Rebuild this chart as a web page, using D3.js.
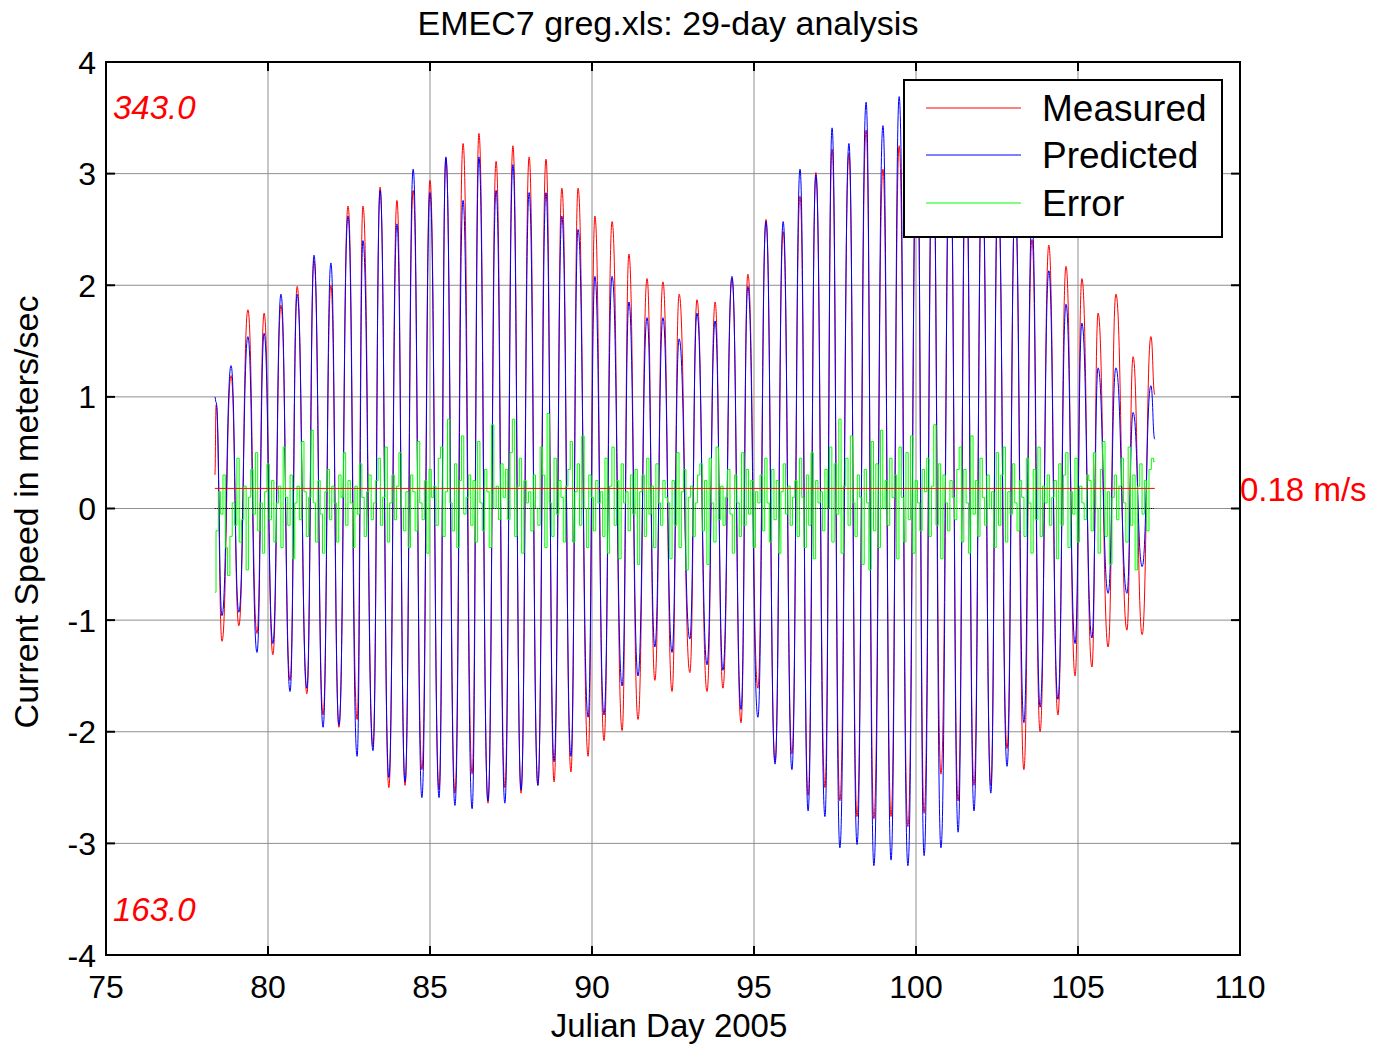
<!DOCTYPE html>
<html>
<head>
<meta charset="utf-8">
<script src="https://cdn.jsdelivr.net/npm/d3@7"></script>
<style>
body{margin:0;background:#fff;}
svg{display:block;font-family:"Liberation Sans",Arial,sans-serif;}
</style>
</head>
<body>
<script>
// flood peaks (direction 343.0, plotted positive)
const floodDay = [78.40,78.86,79.38,79.88,80.40,80.90,81.42,81.94,82.47,82.93,
    83.46,83.98,84.48,85.00,85.49,86.02,86.51,87.04,87.56,88.06,
    88.58,89.07,89.57,90.09,90.62,91.14,91.70,92.19,92.69,93.24,
    93.80,94.32,94.81,95.37,95.90,96.42,96.91,97.41,97.93,98.46,
    98.98,99.48,100.03,100.52,101.05,101.54,102.04,102.53,103.06,103.58,
    104.10,104.63,105.12,105.62,106.17,106.70,107.25]
const floodMeasured = [0.93,1.19,1.78,1.75,1.82,1.99,2.22,2.00,2.71,2.71,
    2.88,2.76,2.85,2.94,3.14,3.27,3.36,3.11,3.25,3.15,
    3.13,2.87,2.87,2.62,2.57,2.28,2.06,2.03,1.92,1.87,
    1.85,2.06,2.10,2.59,2.48,2.80,3.01,3.22,3.18,3.39,
    3.04,3.25,3.40,3.30,3.25,3.10,3.00,2.85,2.75,2.41,
    2.36,2.17,2.06,1.75,1.92,1.36,1.54]
const floodPredicted = [0.95,1.28,1.54,1.57,1.92,1.92,2.27,2.20,2.62,2.40,
    2.85,2.55,3.04,2.83,3.15,2.76,3.15,2.85,3.08,2.83,
    2.83,2.62,2.50,2.08,2.08,1.85,1.71,1.71,1.52,1.75,
    1.68,2.08,1.99,2.57,2.57,3.04,2.99,3.41,3.27,3.64,
    3.43,3.69,3.60,3.55,3.45,3.30,3.10,2.95,2.75,2.60,
    2.13,1.83,1.66,1.26,1.26,0.86,1.10]

// ebb peaks (direction 163.0, plotted negative)
const ebbDay = [78.58,79.10,79.66,80.15,80.68,81.20,81.70,82.19,82.75,83.24,
    83.73,84.23,84.75,85.28,85.77,86.30,86.79,87.31,87.81,88.33,
    88.83,89.35,89.88,90.37,90.93,91.42,91.94,92.47,93.02,93.55,
    94.04,94.60,95.12,95.65,96.17,96.67,97.19,97.65,98.18,98.70,
    99.23,99.75,100.25,100.77,101.30,101.79,102.31,102.81,103.33,103.83,
    104.38,104.91,105.43,105.93,106.51,106.98]
const ebbMeasured = [-1.19,-1.05,-1.12,-1.31,-1.54,-1.66,-1.85,-1.96,-1.89,-2.13,
    -2.50,-2.48,-2.34,-2.52,-2.55,-2.38,-2.64,-2.50,-2.55,-2.48,
    -2.45,-2.36,-2.22,-2.08,-1.99,-1.89,-1.54,-1.64,-1.47,-1.64,
    -1.61,-1.92,-1.61,-2.27,-2.20,-2.57,-2.50,-2.62,-2.76,-2.78,
    -2.76,-2.85,-2.73,-2.38,-2.62,-2.48,-2.48,-2.15,-2.34,-2.00,
    -1.85,-1.50,-1.42,-1.24,-1.09,-1.13]
const ebbPredicted = [-0.96,-0.93,-1.29,-1.21,-1.64,-1.61,-1.96,-1.94,-2.22,-2.17,
    -2.41,-2.45,-2.59,-2.59,-2.66,-2.69,-2.62,-2.64,-2.52,-2.48,
    -2.27,-2.22,-1.87,-1.85,-1.59,-1.50,-1.24,-1.29,-1.17,-1.40,
    -1.45,-1.80,-1.87,-2.29,-2.34,-2.71,-2.76,-3.04,-3.01,-3.20,
    -3.15,-3.20,-3.11,-3.04,-2.90,-2.71,-2.55,-2.31,-1.92,-1.78,
    -1.71,-1.21,-1.16,-0.76,-0.76,-0.52]

// first and last samples of the record
const endDay = [78.36, 107.37]
const endMeasured = [0.30, 1.02]
const endPredicted = [1.00, 0.62]

// measured minus predicted, evenly spaced over the record (one row per day)
const errorValues = [
    -0.75,-0.20,0.15,-0.05,0.30,-0.35,-0.60,-0.25,0.05,-0.15,0.45,-0.30,-0.10,0.20,
    -0.55,0.10,0.35,-0.05,0.50,-0.20,0.05,-0.40,0.15,0.40,-0.10,0.25,-0.30,0.05,
    0.20,-0.35,0.55,0.10,-0.15,0.30,-0.45,0.05,0.20,-0.10,0.60,0.15,-0.25,0.10,
    0.70,0.05,-0.30,0.25,-0.05,-0.40,0.15,0.35,-0.10,0.20,0.05,-0.30,0.30,0.10,
    0.50,-0.15,0.25,0.05,-0.35,0.20,-0.05,0.40,0.10,-0.25,0.15,0.30,-0.10,0.05,
    0.25,0.45,-0.15,0.10,0.55,-0.30,0.05,0.30,-0.10,0.20,0.50,0.00,-0.20,0.15,
    -0.35,0.30,0.15,-0.20,0.60,0.05,-0.10,0.25,-0.40,0.35,0.10,0.20,-0.15,0.45,
    0.55,-0.25,0.15,0.80,0.05,-0.20,0.40,-0.35,0.25,0.65,-0.05,0.10,0.30,-0.15,
    0.25,-0.30,0.60,0.05,-0.20,0.35,0.15,-0.35,0.75,0.00,0.20,-0.10,0.40,0.10,
    0.35,-0.10,0.50,0.80,-0.25,0.20,0.45,-0.40,0.25,0.05,0.15,-0.20,0.30,0.00,
    -0.15,0.55,0.30,-0.35,0.85,0.05,-0.25,0.45,-0.05,0.25,0.10,-0.30,0.20,0.35,
    0.60,-0.30,0.15,0.40,-0.15,0.65,0.00,-0.35,0.30,0.10,-0.20,0.25,0.05,0.15,
    -0.25,0.45,-0.40,0.20,0.55,-0.15,0.25,-0.45,0.40,0.05,0.15,-0.20,0.30,-0.05,
    0.35,-0.50,0.15,0.30,-0.25,0.45,-0.05,0.20,-0.35,0.40,0.05,-0.15,0.25,0.10,
    0.05,-0.45,0.25,-0.15,0.50,-0.35,0.15,0.35,-0.55,0.10,0.20,-0.25,0.05,0.30,
    0.40,-0.20,0.25,-0.50,0.45,0.05,-0.30,0.55,-0.10,0.20,-0.15,0.10,0.35,-0.05,
    -0.40,0.30,0.05,-0.25,0.50,-0.15,0.35,-0.05,0.25,-0.35,0.15,0.05,0.30,-0.20,
    0.45,0.05,-0.30,0.35,-0.10,0.25,-0.40,0.15,0.40,-0.05,0.20,-0.15,0.10,0.25,
    -0.25,0.45,0.10,-0.35,0.30,-0.15,0.50,-0.45,0.25,0.05,0.15,-0.20,0.35,0.00,
    0.55,-0.30,0.40,-0.05,0.80,-0.40,0.20,0.45,-0.15,0.65,0.05,-0.25,0.30,0.10,
    -0.50,0.35,0.05,-0.55,0.60,-0.20,0.40,-0.35,0.70,0.00,0.25,-0.15,0.45,0.10,
    0.30,-0.45,0.55,0.10,-0.30,0.50,-0.10,0.65,-0.40,0.25,0.05,-0.20,0.35,0.15,
    0.45,-0.25,0.20,0.75,-0.15,0.40,-0.45,0.30,0.05,-0.20,0.25,0.10,-0.10,0.35,
    0.55,-0.30,0.35,0.05,-0.40,0.65,-0.05,0.25,-0.25,0.45,0.10,-0.15,0.30,0.00,
    0.15,-0.35,0.50,-0.15,0.30,0.55,-0.30,0.15,-0.05,0.40,0.05,-0.20,0.25,0.10,
    -0.25,0.45,0.05,-0.40,0.35,-0.10,0.55,-0.25,0.20,0.05,0.30,-0.15,0.10,0.25,
    -0.45,0.40,-0.15,0.30,0.50,-0.35,0.15,-0.05,0.45,-0.30,0.20,0.05,-0.10,0.30,
    0.25,-0.20,0.50,0.00,-0.40,0.35,0.60,-0.25,0.15,-0.50,0.10,0.30,-0.10,0.20,
    0.45,0.05,-0.30,0.55,-0.15,0.30,-0.55,0.20,0.40,-0.05,0.25,-0.20,0.35,0.45,
    0.42]

const rmsError = 0.18
const xTicks = [75,80,85,90,95,100,105,110]
const yTicks = [-4,-3,-2,-1,0,1,2,3,4]
const legendNames = ["Measured","Predicted","Error"]
const legendColors = ["#ff0000","#0000ff","#00ff00"]

const width = 1373
const height = 1045
const plot = {left:106, right:1240, top:62, bottom:955}
const tick_len = 9

const x = d3.scaleLinear().domain([75,110]).range([plot.left, plot.right])
const y = d3.scaleLinear().domain([-4,4]).range([plot.bottom, plot.top])

//merge flood and ebb peaks into one time ordered record
const tide = []
tide.push({day:endDay[0], m:endMeasured[0], p:endPredicted[0]})
floodDay.forEach((d,i) => tide.push({day:d, m:floodMeasured[i], p:floodPredicted[i]}))
ebbDay.forEach((d,i) => tide.push({day:d, m:ebbMeasured[i], p:ebbPredicted[i]}))
tide.push({day:endDay[1], m:endMeasured[1], p:endPredicted[1]})
tide.sort((a,b) => a.day - b.day)

//error samples are spread over the same record
const errorTime = d3.scaleLinear()
    .domain([0, errorValues.length-1])
    .range([endDay[0], endDay[1]])

const svg = d3.select("body").append("svg")
    .attr("width", width)
    .attr("height", height)
    .attr("viewBox", [0,0,width,height])

//grid
svg.append("g").selectAll("line")
    .data(xTicks.slice(1,-1))
    .join("line")
    .attr("x1", d => x(d)).attr("x2", d => x(d))
    .attr("y1", plot.top).attr("y2", plot.bottom)
    .attr("stroke", "#8f8f8f").attr("stroke-width", 1)
svg.append("g").selectAll("line")
    .data(yTicks.slice(1,-1))
    .join("line")
    .attr("x1", plot.left).attr("x2", plot.right)
    .attr("y1", d => y(d)).attr("y2", d => y(d))
    .attr("stroke", "#8f8f8f").attr("stroke-width", 1)

//the three series
const measuredLine = d3.line().x(d => x(d.day)).y(d => y(d.m)).curve(d3.curveBumpX)
const predictedLine = d3.line().x(d => x(d.day)).y(d => y(d.p)).curve(d3.curveBumpX)
const errorLine = d3.line()
    .x((d,i) => x(errorTime(i)))
    .y(d => y(d))
    .curve(d3.curveStep)

svg.append("path").datum(tide)
    .attr("d", measuredLine)
    .attr("fill", "none").attr("stroke", legendColors[0]).attr("stroke-width", 1)
svg.append("path").datum(tide)
    .attr("d", predictedLine)
    .attr("fill", "none").attr("stroke", legendColors[1]).attr("stroke-width", 1)
svg.append("path").datum(errorValues)
    .attr("d", errorLine)
    .attr("fill", "none").attr("stroke", legendColors[2]).attr("stroke-width", 1)

//zero line and rms error line across the record
svg.append("line")
    .attr("x1", x(endDay[0])).attr("x2", x(endDay[1]))
    .attr("y1", y(0)).attr("y2", y(0))
    .attr("stroke", "#000").attr("stroke-width", 1).attr("stroke-dasharray", "1,1")
svg.append("line")
    .attr("x1", x(endDay[0])).attr("x2", x(endDay[1]))
    .attr("y1", y(rmsError)).attr("y2", y(rmsError))
    .attr("stroke", "#ff0000").attr("stroke-width", 1)

//axes box and inward ticks
svg.append("rect")
    .attr("x", plot.left).attr("y", plot.top)
    .attr("width", plot.right-plot.left).attr("height", plot.bottom-plot.top)
    .attr("fill", "none").attr("stroke", "#000").attr("stroke-width", 2)

const ticks = svg.append("g").attr("stroke", "#000").attr("stroke-width", 2)
for(const t of xTicks){
    ticks.append("line").attr("x1", x(t)).attr("x2", x(t))
        .attr("y1", plot.bottom).attr("y2", plot.bottom - tick_len)
    ticks.append("line").attr("x1", x(t)).attr("x2", x(t))
        .attr("y1", plot.top).attr("y2", plot.top + tick_len)
}
for(const t of yTicks){
    ticks.append("line").attr("x1", plot.left).attr("x2", plot.left + tick_len)
        .attr("y1", y(t)).attr("y2", y(t))
    ticks.append("line").attr("x1", plot.right).attr("x2", plot.right - tick_len)
        .attr("y1", y(t)).attr("y2", y(t))
}

//tick labels
svg.append("g").selectAll("text")
    .data(xTicks)
    .join("text")
    .attr("x", d => x(d)).attr("y", 998)
    .attr("text-anchor", "middle")
    .style("font-size", "32px")
    .text(d => d)
svg.append("g").selectAll("text")
    .data(yTicks)
    .join("text")
    .attr("x", plot.left - 10).attr("y", d => y(d))
    .attr("dy", "0.36em")
    .attr("text-anchor", "end")
    .style("font-size", "32px")
    .text(d => d)

//title and axis labels
svg.append("text")
    .attr("x", 668).attr("y", 35)
    .attr("text-anchor", "middle")
    .style("font-size", "34px")
    .text("EMEC7 greg.xls: 29-day analysis")
svg.append("text")
    .attr("x", 669).attr("y", 1037)
    .attr("text-anchor", "middle")
    .style("font-size", "33px")
    .text("Julian Day 2005")
svg.append("text")
    .attr("transform", "translate(38,512) rotate(-90)")
    .attr("text-anchor", "middle")
    .style("font-size", "34px")
    .text("Current Speed in meters/sec")

//direction and rms annotations
svg.append("text")
    .attr("x", 113).attr("y", 119)
    .attr("fill", "#ff0000").style("font-style", "italic").style("font-size", "33px")
    .text("343.0")
svg.append("text")
    .attr("x", 113).attr("y", 921)
    .attr("fill", "#ff0000").style("font-style", "italic").style("font-size", "33px")
    .text("163.0")
svg.append("text")
    .attr("x", 1240).attr("y", 501)
    .attr("fill", "#ff0000").style("font-size", "33px")
    .text(`${rmsError} m/s`)

//legend
const legend = svg.append("g")
legend.append("rect")
    .attr("x", 904).attr("y", 80)
    .attr("width", 318).attr("height", 157)
    .attr("fill", "#fff").attr("stroke", "#000").attr("stroke-width", 2)
const legend_y = [108, 155, 203]
legendNames.forEach((name,i) => {
    legend.append("line")
        .attr("x1", 926).attr("x2", 1021)
        .attr("y1", legend_y[i]).attr("y2", legend_y[i])
        .attr("stroke", legendColors[i]).attr("stroke-width", 1)
    legend.append("text")
        .attr("x", 1042).attr("y", legend_y[i])
        .attr("dy", "0.36em")
        .style("font-size", "37px")
        .text(name)
})
</script>
</body>
</html>
